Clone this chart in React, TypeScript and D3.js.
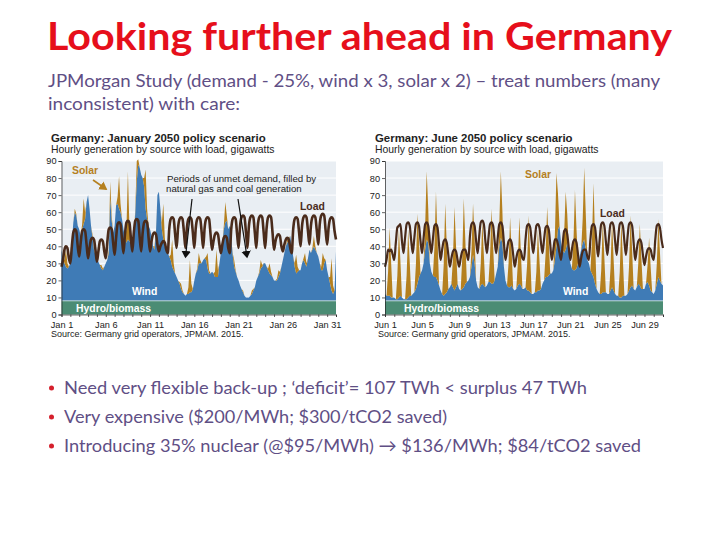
import * as d3 from "d3";
import { useEffect, useRef } from "react";

// six samples per day (00, 04, 08, 12, 16, 20h), gigawatts
const hydroLevel = 8;

const janWind = [
  30, 25, 22, 20, 19, 20,
  22, 34, 46, 52, 50, 44,
  42, 38, 42, 45, 48, 58,
  62, 54, 44, 37, 30, 27,
  25, 23, 21, 19, 18, 20,
  22, 24, 28, 60, 47, 40,
  44, 56, 57, 54, 52, 48,
  42, 37, 34, 36, 35, 34,
  34, 37, 52, 70, 80, 78,
  74, 72, 67, 54, 48, 44,
  42, 38, 32, 30, 40, 62,
  64, 54, 42, 36, 32, 30,
  28, 26, 24, 20, 18, 16,
  14, 12, 10, 7, 5, 4,
  3, 4, 4, 5, 5, 7,
  12, 16, 18, 22, 22, 22,
  24, 25, 24, 19, 16, 16,
  17, 16, 14, 14, 14, 22,
  28, 34, 42, 46, 47, 42,
  44, 37, 27, 20, 17, 14,
  12, 9, 7, 5, 3, 2,
  2, 2, 3, 4, 6, 8,
  12, 14, 16, 19, 20, 22,
  22, 20, 18, 16, 15, 14,
  12, 12, 12, 14, 16, 20,
  24, 28, 32, 34, 36, 38,
  32, 26, 20, 16, 17, 18,
  18, 22, 24, 22, 20, 25,
  30, 28, 30, 32, 30, 28,
  26, 22, 18, 18, 22, 24,
  18, 14, 10, 6, 4, 6,
  29,
];

const janSolar = [
  0, 0, 2, 10, 3, 0,
  0, 0, 0, 2, 1, 0,
  0, 0, 3, 15, 4, 0,
  0, 0, 0, 2, 1, 0,
  0, 0, 0, 2, 1, 0,
  0, 0, 2, 10, 3, 0,
  0, 0, 4, 19, 5, 0,
  0, 0, 8, 40, 9, 0,
  0, 0, 2, 12, 3, 0,
  0, 0, 5, 23, 6, 0,
  0, 0, 0, 2, 1, 0,
  0, 0, 4, 21, 5, 0,
  0, 0, 3, 16, 4, 0,
  0, 0, 1, 3, 1, 0,
  0, 0, 4, 19, 5, 0,
  0, 0, 1, 6, 2, 0,
  0, 0, 2, 9, 2, 0,
  0, 0, 3, 16, 4, 0,
  0, 0, 2, 12, 3, 0,
  0, 0, 1, 4, 1, 0,
  0, 0, 0, 1, 0, 0,
  0, 0, 0, 2, 1, 0,
  0, 0, 1, 5, 1, 0,
  0, 0, 1, 6, 2, 0,
  0, 0, 1, 4, 1, 0,
  0, 0, 0, 2, 1, 0,
  0, 0, 2, 11, 3, 0,
  0, 0, 1, 6, 2, 0,
  0, 0, 1, 6, 2, 0,
  0, 0, 2, 10, 3, 0,
  0, 0, 4, 19, 5, 0,
  0,
];

const janLoad = [
  28, 32, 38, 40, 39, 33,
  30, 40, 48, 50, 49, 40,
  34, 42, 49, 50, 49, 41,
  33, 39, 44, 45, 44, 38,
  31, 37, 43, 44, 43, 37,
  33, 42, 50, 51, 50, 42,
  35, 45, 53, 54, 53, 44,
  36, 47, 54, 55, 54, 45,
  37, 48, 55, 56, 55, 45,
  37, 48, 54, 55, 54, 45,
  37, 43, 47, 48, 47, 41,
  37, 40, 42, 43, 42, 38,
  36, 50, 56, 57, 56, 47,
  39, 51, 56, 57, 56, 48,
  39, 51, 56, 57, 56, 48,
  39, 51, 56, 57, 56, 48,
  39, 51, 56, 57, 56, 47,
  38, 43, 47, 48, 47, 41,
  36, 41, 45, 46, 45, 39,
  36, 50, 56, 57, 56, 47,
  39, 52, 57, 58, 57, 48,
  39, 52, 57, 58, 57, 48,
  39, 52, 57, 58, 57, 48,
  39, 51, 57, 58, 57, 48,
  38, 43, 46, 47, 46, 40,
  37, 41, 44, 45, 44, 39,
  36, 50, 56, 57, 56, 48,
  40, 52, 57, 58, 57, 49,
  41, 52, 57, 58, 57, 49,
  41, 53, 58, 59, 58, 49,
  41, 51, 56, 57, 56, 49,
  44,
];

const junWind = [
  4, 3, 3, 3, 2, 2,
  2, 1, 1, 2, 3, 2,
  1, 1, 1, 2, 3, 3,
  4, 5, 7, 10, 14, 16,
  18, 22, 30, 36, 34, 22,
  17, 15, 14, 14, 12, 9,
  6, 4, 3, 4, 5, 7,
  8, 10, 8, 6, 8, 10,
  7, 6, 7, 8, 10, 11,
  12, 14, 20, 27, 22, 12,
  8, 7, 9, 10, 9, 8,
  9, 11, 11, 10, 10, 12,
  16, 20, 32, 37, 34, 20,
  12, 9, 8, 8, 9, 7,
  6, 7, 9, 10, 9, 7,
  7, 8, 6, 6, 5, 4,
  4, 5, 5, 6, 6, 7,
  10, 12, 14, 14, 15, 16,
  16, 18, 24, 32, 42, 44,
  34, 30, 28, 30, 34, 30,
  22, 19, 18, 18, 19, 22,
  26, 30, 34, 36, 30, 24,
  22, 18, 16, 14, 10, 7,
  5, 4, 4, 5, 5, 5,
  4, 4, 6, 8, 6, 4,
  3, 3, 2, 2, 3, 3,
  3, 4, 6, 8, 9, 7,
  6, 8, 10, 9, 7, 7,
  7, 10, 11, 9, 6, 5,
  4, 6, 10, 14, 12, 10,
  9,
];

const junSolar = [
  0, 0, 14, 40, 20, 0,
  0, 0, 14, 40, 20, 0,
  0, 0, 14, 40, 20, 0,
  0, 0, 14, 41, 21, 0,
  0, 0, 14, 40, 20, 0,
  0, 0, 17, 50, 25, 0,
  0, 0, 18, 53, 27, 0,
  0, 0, 17, 49, 24, 0,
  0, 0, 18, 52, 26, 0,
  0, 0, 10, 30, 15, 0,
  0, 0, 13, 37, 18, 0,
  0, 0, 15, 44, 22, 0,
  0, 0, 13, 39, 19, 0,
  0, 0, 14, 41, 20, 0,
  0, 0, 13, 39, 19, 0,
  0, 0, 15, 44, 22, 0,
  0, 0, 12, 36, 18, 0,
  0, 0, 14, 41, 20, 0,
  0, 0, 15, 43, 21, 0,
  0, 0, 12, 34, 17, 0,
  0, 0, 16, 47, 23, 0,
  0, 0, 14, 42, 21, 0,
  0, 0, 19, 55, 27, 0,
  0, 0, 14, 42, 21, 0,
  0, 0, 13, 39, 19, 0,
  0, 0, 15, 45, 22, 0,
  0, 0, 14, 42, 21, 0,
  0, 0, 12, 36, 18, 0,
  0, 0, 10, 28, 14, 0,
  0, 0, 12, 34, 17, 0,
  0,
];

const junLoad = [
  28, 32, 38, 37, 38, 35,
  32, 42, 51, 52, 53, 43,
  36, 45, 53, 54, 52, 43,
  36, 45, 53, 54, 52, 43,
  36, 45, 53, 54, 52, 43,
  36, 44, 52, 53, 51, 41,
  32, 38, 43, 44, 42, 35,
  28, 33, 37, 38, 37, 32,
  28, 33, 37, 38, 38, 35,
  32, 46, 53, 54, 52, 43,
  36, 46, 54, 55, 53, 43,
  36, 45, 53, 54, 52, 43,
  36, 45, 53, 54, 52, 42,
  32, 38, 43, 44, 42, 35,
  28, 33, 37, 38, 37, 33,
  32, 44, 52, 53, 51, 43,
  36, 44, 52, 53, 51, 42,
  36, 44, 51, 52, 50, 41,
  32, 38, 44, 44, 41, 36,
  32, 41, 49, 50, 47, 39,
  32, 38, 43, 44, 42, 35,
  28, 33, 37, 38, 38, 34,
  32, 44, 52, 53, 51, 42,
  34, 44, 53, 54, 52, 43,
  35, 45, 53, 54, 52, 43,
  35, 45, 53, 54, 52, 43,
  35, 45, 53, 54, 52, 42,
  32, 38, 43, 44, 42, 35,
  29, 34, 38, 39, 38, 34,
  32, 44, 52, 53, 51, 44,
  39,
];

const janDays = 31;
const junDays = 30;
const janLabels = ["Jan 1", "Jan 6", "Jan 11", "Jan 16", "Jan 21", "Jan 26", "Jan 31"];
const junLabels = ["Jun 1", "Jun 5", "Jun 9", "Jun 13", "Jun 17", "Jun 21", "Jun 25", "Jun 29"];
const yTicks = [0, 10, 20, 30, 40, 50, 60, 70, 80, 90];

const bullets = [
  "Need very flexible back-up ; ‘deficit’= 107 TWh < surplus 47 TWh",
  "Very expensive ($200/MWh; $300/tCO2 saved)",
  "Introducing 35% nuclear (@$95/MWh) → $136/MWh; $84/tCO2 saved",
];

const SLIDE_FONT = "Lato, 'Open Sans', sans-serif";
const CHART_FONT = "'Liberation Sans', Arial, sans-serif";
const TEXT_PURPLE = "#5f4f85";
const GOLD = "#b5801f";
const BLUE = "#3f7bb6";
const GREEN = "#4b8c74";
const BROWN = "#4a2b1b";

type PanelProps = {
  x0: number;
  x1: number;
  days: number;
  labels: string[];
  labelStep: number;
  wind: number[];
  solar: number[];
  load: number[];
  loadWidth: number;
};

function Panel({ x0, x1, days, labels, labelStep, wind, solar, load, loadWidth }: PanelProps) {
  const ref = useRef<SVGGElement | null>(null);

  useEffect(() => {
    if (!ref.current) return;
    const g = d3.select(ref.current);
    g.selectAll("*").remove();

    const top = 161;
    const bottom = 314.5;

    const x = d3.scaleLinear().domain([0, days]).range([x0, x1]);
    const y = d3.scaleLinear().domain([0, 90]).range([bottom, top]);

    const rows = load.map((_, i) => ({
      day: i / 6,
      hydro: hydroLevel,
      wind: wind[i],
      solar: solar[i],
    }));

    const stacked = d3.stack<any>().keys(["hydro", "wind", "solar"])(rows);
    const colors = [GREEN, BLUE, GOLD];

    g.append("rect")
      .attr("x", x0)
      .attr("y", top)
      .attr("width", x1 - x0)
      .attr("height", bottom - top)
      .attr("fill", "#e9eef3");

    g.append("g")
      .selectAll("line")
      .data(yTicks)
      .join("line")
      .attr("x1", x0)
      .attr("x2", x1)
      .attr("y1", (d) => y(d))
      .attr("y2", (d) => y(d))
      .attr("stroke", "#fff")
      .attr("stroke-width", 1);

    const area = d3
      .area<any>()
      .x((d) => x(d.data.day))
      .y0((d) => y(d[0]))
      .y1((d) => y(d[1]));

    g.append("g")
      .selectAll("path")
      .data(stacked)
      .join("path")
      .attr("d", (s) => area(s))
      .attr("fill", (_, i) => colors[i]);

    // pale rule on top of hydro
    g.append("line")
      .attr("x1", x0)
      .attr("x2", x1)
      .attr("y1", y(hydroLevel))
      .attr("y2", y(hydroLevel))
      .attr("stroke", "#cfe3e0")
      .attr("stroke-width", 0.8);

    const line = d3
      .line<number>()
      .x((_, i) => x(i / 6))
      .y((d) => y(d))
      .curve(d3.curveMonotoneX);

    g.append("path")
      .attr("d", line(load))
      .attr("fill", "none")
      .attr("stroke", BROWN)
      .attr("stroke-width", loadWidth);

    const yAxis = g
      .append("g")
      .attr("transform", `translate(${x0},0)`)
      .call(d3.axisLeft(y).tickValues(yTicks).tickSize(3).tickPadding(2));

    const xAxis = g
      .append("g")
      .attr("transform", `translate(0,${bottom})`)
      .call(
        d3
          .axisBottom(x)
          .tickValues(d3.range(0, days + 1))
          .tickSize(2.5)
          .tickPadding(4)
          .tickFormat((d) => {
            const n = +d;
            return n % labelStep === 0 ? labels[n / labelStep] ?? "" : "";
          })
      );

    [yAxis, xAxis].forEach((a) => {
      a.selectAll("text")
        .attr("font-family", CHART_FONT)
        .attr("font-size", 9.2)
        .attr("fill", "#222");
      a.selectAll("path,line").attr("stroke", "#222").attr("stroke-width", 0.7);
    });
  }, []);

  return <g ref={ref} />;
}

const chartText = {
  fontFamily: CHART_FONT,
  fill: "#222",
};

export default function App() {
  return (
    <svg
      width={720}
      height={540}
      style={{ position: "absolute", left: 0, top: 0, background: "#fff" }}
    >
      <defs>
        <marker id="head" markerWidth="7" markerHeight="9" refX="5" refY="4" orient="auto">
          <path d="M0,0 L6,4 L0,8 Z" fill="#111" />
        </marker>
        <marker id="headGold" markerWidth="7" markerHeight="7" refX="4" refY="3" orient="auto">
          <path d="M0,0 L5,3 L0,6 Z" fill={GOLD} />
        </marker>
      </defs>

      <text
        x={47}
        y={50}
        fontFamily={SLIDE_FONT}
        fontWeight={700}
        fontSize={38}
        fill="#e60f1b"
        textLength={625}
        lengthAdjust="spacingAndGlyphs"
      >
        Looking further ahead in Germany
      </text>
      <g fontFamily={SLIDE_FONT} fontSize={18} fill={TEXT_PURPLE}>
        <text x={48} y={87} textLength={612} lengthAdjust="spacingAndGlyphs">
          JPMorgan Study (demand - 25%, wind x 3, solar x 2) – treat numbers (many
        </text>
        <text x={48} y={110} textLength={192} lengthAdjust="spacingAndGlyphs">
          inconsistent) with care:
        </text>
      </g>

      <Panel
        x0={61.5}
        x1={336}
        days={janDays}
        labels={janLabels}
        labelStep={5}
        wind={janWind}
        solar={janSolar}
        load={janLoad}
        loadWidth={2.6}
      />
      <Panel
        x0={385}
        x1={663}
        days={junDays}
        labels={junLabels}
        labelStep={4}
        wind={junWind}
        solar={junSolar}
        load={junLoad}
        loadWidth={2.2}
      />

      <g {...chartText}>
        <text x={51} y={142} fontSize={11.4} fontWeight={700}>Germany: January 2050 policy scenario</text>
        <text x={51} y={153} fontSize={10.4}>Hourly generation by source with load, gigawatts</text>
        <text x={51} y={337} fontSize={9}>Source: Germany grid operators, JPMAM. 2015.</text>
        <text x={375} y={142} fontSize={11.4} fontWeight={700}>Germany: June 2050 policy scenario</text>
        <text x={375} y={153} fontSize={10.4}>Hourly generation by source with load, gigawatts</text>
        <text x={378} y={337} fontSize={9}>Source: Germany grid operators, JPMAM. 2015.</text>

        <text x={167} y={182} fontSize={9.7}>Periods of unmet demand, filled by</text>
        <text x={166} y={192} fontSize={9.7}>natural gas and coal generation</text>
      </g>

      <line x1={93} y1={180} x2={106} y2={189} stroke={GOLD} strokeWidth={1.6} markerEnd="url(#headGold)" />
      <line x1={192} y1={199} x2={185.5} y2={257} stroke="#111" strokeWidth={1.2} markerEnd="url(#head)" />
      <line x1={238} y1={199} x2={247} y2={257} stroke="#111" strokeWidth={1.2} markerEnd="url(#head)" />

      <g fontFamily={CHART_FONT} fontWeight={700} fontSize={10.4}>
        <text x={72} y={174} fill={GOLD}>Solar</text>
        <text x={300} y={210} fill={BROWN}>Load</text>
        <text x={132} y={295} fill="#fff">Wind</text>
        <text x={76} y={312} fill="#fff">Hydro/biomass</text>
        <text x={525} y={178} fill={GOLD}>Solar</text>
        <text x={600} y={217} fill={BROWN}>Load</text>
        <text x={563} y={295} fill="#fff">Wind</text>
        <text x={404} y={312} fill="#fff">Hydro/biomass</text>
      </g>

      {bullets.map((b, i) => (
        <g key={b} transform={`translate(0,${394 + i * 29})`}>
          <circle cx={51.5} cy={-6} r={2.5} fill="#d5202c" />
          <text
            x={64}
            y={0}
            fontFamily={SLIDE_FONT}
            fontSize={18}
            fill={TEXT_PURPLE}
            textLength={[523, 383, 577][i]}
            lengthAdjust="spacingAndGlyphs"
          >
            {b}
          </text>
        </g>
      ))}
    </svg>
  );
}
